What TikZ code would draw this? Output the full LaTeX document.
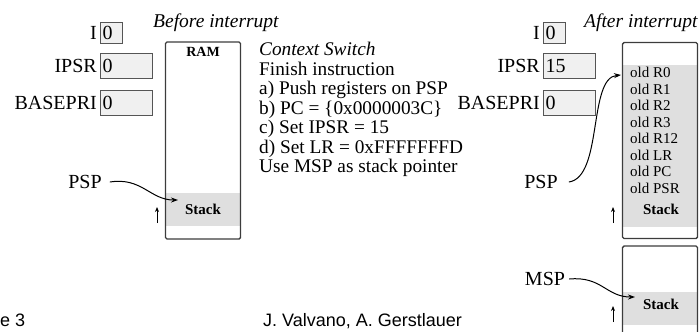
\documentclass[tikz,border=0pt]{standalone}
\usepackage{fontspec}
\setmainfont{Liberation Serif}
\newfontfamily\footfont{Liberation Sans}
\definecolor{regFill}{RGB}{240,240,240}
\definecolor{regLine}{RGB}{85,85,85}
\definecolor{stackFill}{RGB}{223,223,223}
\definecolor{memLine}{RGB}{60,60,60}
\usetikzlibrary{arrows.meta, positioning}
\tikzset{
  regbox/.style={rectangle, draw=regLine, fill=regFill, line width=1.3bp, inner xsep=2bp, inner ysep=0pt, text width=#1, minimum height=25bp, align=left, font=\fontsize{20bp}{20bp}\selectfont},
  regbox/.default=48bp,
  reglabel/.style={inner sep=0pt, font=\fontsize{20bp}{20bp}\selectfont},
  membox/.style={rectangle, rounded corners=1.5bp, draw=memLine, line width=1.4bp, minimum width=75bp, inner sep=0pt},
  stackband/.style={rectangle, fill=stackFill, minimum width=75bp, inner sep=0pt, font=\fontsize{15bp}{15bp}\selectfont\bfseries},
  heading/.style={inner sep=0pt, anchor=west, font=\fontsize{19.5bp}{19.5bp}\selectfont\itshape},
  ptrarrow/.style={-{Stealth[length=7bp, width=5bp]}, line width=1bp},
  uparrow/.style={-{Stealth[length=5bp, width=4bp]}, line width=1bp},
}

\begin{document}
\begin{tikzpicture}[x=1bp, y=-1bp]
  \useasboundingbox (0,0) rectangle (699,331);

  % Before interrupt
  \node[heading] (hdA) at (153,23) {Before interrupt};
  \node[regbox=18bp, minimum height=21bp, anchor=north west] (iA) at (100,22) {0};
  \node[regbox, anchor=north west] (ipsrA) at (100,53) {0};
  \node[regbox, anchor=north west] (baseA) at (100,90) {0};
  \node[reglabel, left=3bp of iA] {I};
  \node[reglabel, left=3bp of ipsrA] {IPSR};
  \node[reglabel, left=3bp of baseA] {BASEPRI};

  \node[stackband, minimum height=33bp] (stkA) at (203,209.5) {Stack};
  \node[membox, minimum height=197bp] (ramA) at (203,140.5) {};
  \node[inner sep=0pt, font=\fontsize{14bp}{14bp}\selectfont\bfseries, below=6bp of ramA.north] {RAM};

  \node[reglabel] (pspA) at (85,182) {PSP};
  \coordinate (pspTipA) at (178,200);
  \draw[ptrarrow] (pspA.east) ++(8,0) .. controls (142,177) and (150,200) .. (pspTipA);
  \coordinate (growA) at (157,223);
  \draw[uparrow] (growA) -- ++(0,-16);

  % Context switch steps
  \node[inner sep=0pt, anchor=north west, align=left, font=\fontsize{19.3bp}{19.5bp}\selectfont] (steps) at (259,42) {%
    \textit{Context Switch}\\
    Finish instruction\\
    a) Push registers on PSP\\
    b) PC = \{0x0000003C\}\\
    c) Set IPSR = 15\\
    d) Set LR = 0xFFFFFFFD\\
    Use MSP as stack pointer};

  % After interrupt
  \node[heading] (hdB) at (584,23) {After interrupt};
  \node[regbox=18bp, minimum height=21bp, anchor=north west] (iB) at (543,22) {0};
  \node[regbox, anchor=north west] (ipsrB) at (543,53) {15};
  \node[regbox, anchor=north west] (baseB) at (543,90) {0};
  \node[reglabel, left=3bp of iB] {I};
  \node[reglabel, left=3bp of ipsrB] {IPSR};
  \node[reglabel, left=3bp of baseB] {BASEPRI};

  \node[stackband, minimum height=162bp] (stkB) at (660,146) {};
  \node[membox, minimum height=196bp] (psB) at (660,140.5) {};
  \node[inner sep=0pt, anchor=north west, align=left, font=\fontsize{15bp}{16.5bp}\selectfont] (oldregs) at (630,67) {%
    old R0\\ old R1\\ old R2\\ old R3\\ old R12\\ old LR\\ old PC\\ old PSR};
  \node[inner sep=0pt, font=\fontsize{15bp}{15bp}\selectfont\bfseries] (stkLblB) at (661,209) {Stack};

  \node[reglabel] (pspB) at (541,182) {PSP};
  \coordinate (pspTipB) at (621,75);
  \draw[ptrarrow] (pspB.east) ++(11,0) .. controls (603,177) and (588,78) .. (pspTipB);
  \coordinate (growB) at (613,223);
  \draw[uparrow] (growB) -- ++(0,-16);

  % Main stack
  \node[stackband, minimum height=33bp] (stkC) at (660,308.5) {};
  \node[membox, minimum height=110bp] (msC) at (660,301) {};
  \node[inner sep=0pt, font=\fontsize{15bp}{15bp}\selectfont\bfseries] (stkLblC) at (661,304) {Stack};
  \node[reglabel] (mspC) at (545,279) {MSP};
  \coordinate (mspTipC) at (635,297);
  \draw[ptrarrow] (mspC.east) ++(4,0) .. controls (602,276) and (606,297) .. (mspTipC);
  \coordinate (growC) at (613,322);
  \draw[uparrow] (growC) -- ++(0,-16);

  % Footer
  \node[inner sep=0pt, anchor=base west, font=\footfont\fontsize{18bp}{18bp}\selectfont] (pageNo) at (0,326) {e 3};
  \node[inner sep=0pt, anchor=base west, font=\footfont\fontsize{18bp}{18bp}\selectfont] (authors) at (263,326) {J. Valvano, A. Gerstlauer};
\end{tikzpicture}
\end{document}
